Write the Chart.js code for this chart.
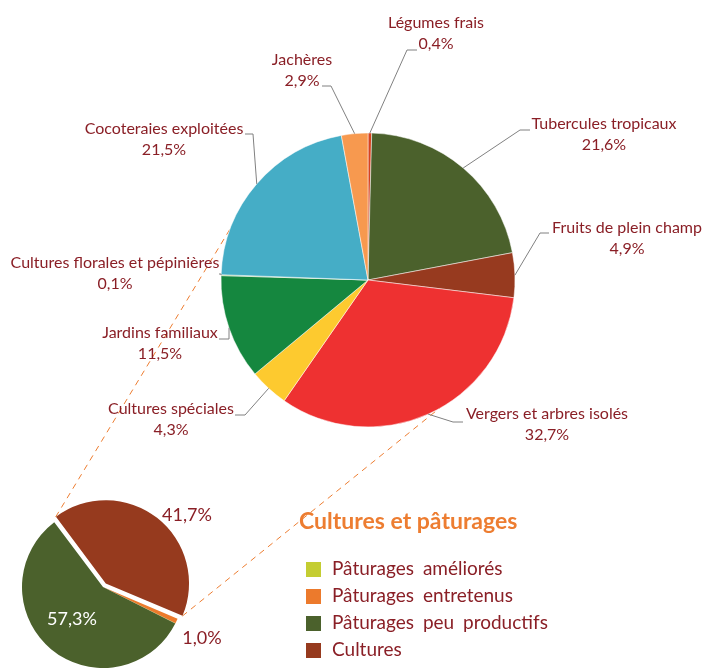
<!DOCTYPE html>
<html>
<head>
<meta charset="utf-8">
<script src="https://cdn.jsdelivr.net/npm/chart.js@4.4.1/dist/chart.umd.min.js"></script>
<style>
  html, body { margin: 0; padding: 0; background: #fff; }
  #wrap { position: relative; width: 705px; height: 669px; overflow: hidden; }
  #wrap canvas { position: absolute; left: 0; top: 0; }
</style>
</head>
<body>
<div id="wrap">
  <canvas id="subPie" width="705" height="669"></canvas>
  <canvas id="mainPie" width="705" height="669"></canvas>
</div>
<script>
// --- camembert principal (cultures)
const mainLabels = [
  "Légumes frais", "Tubercules tropicaux", "Fruits de plein champ",
  "Vergers et arbres isolés", "Cultures spéciales", "Jardins familiaux",
  "Cultures florales et pépinières", "Cocoteraies exploitées", "Jachères"
];
const mainValues = [0.4, 21.6, 4.9, 32.7, 4.3, 11.5, 0.1, 21.5, 2.9];
const mainColors = ["#d8431f", "#4b612c", "#973a1f", "#ee3131", "#fdca2f",
                    "#15873f", "#7fb03f", "#45adc6", "#f7994f"];

// --- petit camembert (cultures et pâturages)
const subLabels = ["Cultures", "Pâturages entretenus", "Pâturages améliorés", "Pâturages peu productifs"];
const subValues = [41.7, 1.0, 0.05, 57.3];
const subColors = ["#963a1e", "#ec7a2c", "#c4cd32", "#4b612c"];
const legendOrder = [2, 1, 3, 0];

const TXT = "#8a1f26";
const FONT = "Lato, 'Open Sans', sans-serif";

// position des étiquettes (texte + coude du trait de rappel)
const mainLabelLayout = [
  { x: 436, y: 23,  elbow: [407, 50],  end: [417, 50] },
  { x: 604, y: 124, elbow: [520, 130], end: [530, 130] },
  { x: 627, y: 228, elbow: [540, 233], end: [549, 233] },
  { x: 547, y: 414, elbow: [453, 422], end: [463, 422] },
  { x: 171, y: 409, elbow: [245, 415], end: [235, 415] },
  { x: 160, y: 333, elbow: [229, 339], end: [219, 339] },
  { x: 115, y: 263, elbow: [221, 274], end: [219, 274] },
  { x: 164, y: 129, elbow: [253, 134], end: [245, 134] },
  { x: 302, y: 60,  elbow: [331, 86],  end: [322, 86] }
];
const subLabelLayout = [
  { x: 187, y: 515, color: TXT },
  { x: 202, y: 638, color: TXT },
  null,
  { x: 72, y: 619, color: "#fff" }
];
const connectorAngles = [296, 145]; // degrés, sens horaire depuis le haut

function fmt(v) {
  return v.toFixed(1).replace(".", ",") + "%";
}

function arcPoint(arc, angle, extra) {
  const p = arc.getProps(["x", "y", "outerRadius"], true);
  const r = p.outerRadius + (extra || 0);
  return [p.x + Math.cos(angle) * r, p.y + Math.sin(angle) * r];
}

const mainLabelsPlugin = {
  id: "mainLabels",
  afterDraw(chart) {
    const ctx = chart.ctx;
    const arcs = chart.getDatasetMeta(0).data;
    ctx.save();
    arcs.forEach((arc, i) => {
      const lay = mainLabelLayout[i];
      const a = arc.getProps(["startAngle", "endAngle"], true);
      const mid = (a.startAngle + a.endAngle) / 2;
      const start = arcPoint(arc, mid);
      ctx.strokeStyle = "#808080";
      ctx.lineWidth = 1;
      ctx.beginPath();
      ctx.moveTo(start[0], start[1]);
      ctx.lineTo(lay.elbow[0], lay.elbow[1]);
      ctx.lineTo(lay.end[0], lay.end[1]);
      ctx.stroke();

      ctx.fillStyle = TXT;
      ctx.font = "16px " + FONT;
      ctx.textAlign = "center";
      ctx.textBaseline = "middle";
      ctx.fillText(mainLabels[i], lay.x, lay.y);
      ctx.fillText(fmt(mainValues[i]), lay.x, lay.y + 21);
    });
    ctx.restore();
  }
};

const subDecorPlugin = {
  id: "subDecor",
  afterDraw(chart) {
    const ctx = chart.ctx;
    const arcs = chart.getDatasetMeta(0).data;
    ctx.save();

    // traits pointillés vers le grand camembert
    // (Chart.js décale l'arc de offset/4 et agrandit son rayon)
    const cult = arcs[0];
    const c = cult.getProps(["x", "y", "startAngle", "endAngle", "outerRadius", "circumference"], true);
    const off = (cult.options.offset || 0) / 4;
    const mid = (c.startAngle + c.endAngle) / 2;
    const ox = Math.cos(mid) * off, oy = Math.sin(mid) * off;
    const r = c.outerRadius + off * (1 - Math.sin(Math.min(Math.PI, c.circumference)));
    const ends = [c.startAngle, c.endAngle].map(ang =>
      [c.x + ox + Math.cos(ang) * r, c.y + oy + Math.sin(ang) * r]);
    const bigArc = mainChart.getDatasetMeta(0).data[0];
    ctx.strokeStyle = "#ed7d31";
    ctx.lineWidth = 1;
    ctx.setLineDash([6, 5]);
    connectorAngles.forEach((deg, k) => {
      const rad = (deg - 90) * Math.PI / 180;
      const p = arcPoint(bigArc, rad, -2);
      ctx.beginPath();
      ctx.moveTo(ends[k][0], ends[k][1]);
      ctx.lineTo(p[0], p[1]);
      ctx.stroke();
    });
    ctx.setLineDash([]);

    // pourcentages
    ctx.font = "18px " + FONT;
    ctx.textAlign = "center";
    ctx.textBaseline = "middle";
    subLabelLayout.forEach((lay, i) => {
      if (!lay) return;
      ctx.fillStyle = lay.color;
      ctx.fillText(fmt(subValues[i]), lay.x, lay.y);
    });

    // légende
    ctx.fillStyle = "#ed7d31";
    ctx.font = "bold 23px " + FONT;
    ctx.textAlign = "left";
    ctx.fillText("Cultures et pâturages", 299, 522);

    ctx.font = "19px " + FONT;
    if ("wordSpacing" in ctx) ctx.wordSpacing = "4px";
    legendOrder.forEach((idx, row) => {
      const y = 569 + row * 27;
      ctx.fillStyle = subColors[idx];
      ctx.fillRect(306, y - 7, 15, 15);
      ctx.fillStyle = TXT;
      ctx.fillText(subLabels[idx], 332, y);
    });
    ctx.restore();
  }
};

const mainChart = new Chart(document.getElementById("mainPie"), {
  type: "pie",
  data: {
    labels: mainLabels,
    datasets: [{
      data: mainValues,
      backgroundColor: mainColors,
      borderColor: "#ffffff",
      borderWidth: 0.5,
      radius: 147
    }]
  },
  options: {
    responsive: false,
    animation: false,
    events: [],
    layout: { padding: { left: 221, right: 190, top: 133, bottom: 242 } },
    plugins: { legend: { display: false }, tooltip: { enabled: false } }
  },
  plugins: [mainLabelsPlugin]
});

const subChart = new Chart(document.getElementById("subPie"), {
  type: "pie",
  data: {
    labels: subLabels,
    datasets: [{
      data: subValues,
      backgroundColor: subColors,
      borderWidth: 0,
      offset: [18, 0, 0, 0],
      radius: 81
    }]
  },
  options: {
    responsive: false,
    animation: false,
    events: [],
    rotation: -37,
    layout: { padding: { left: 21, right: 520, top: 505, bottom: 0 } },
    plugins: { legend: { display: false }, tooltip: { enabled: false } }
  },
  plugins: [subDecorPlugin]
});
</script>
</body>
</html>
